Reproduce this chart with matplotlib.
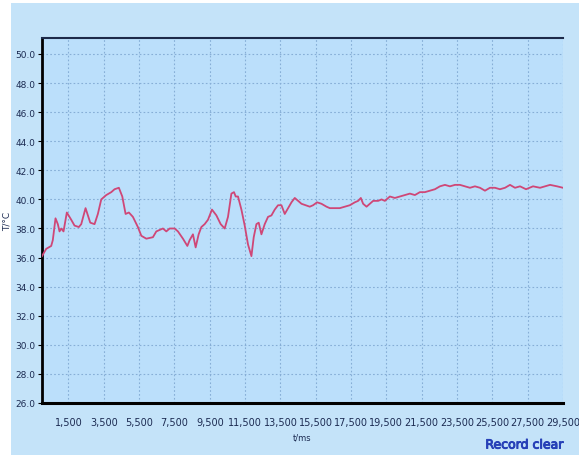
import numpy as np
import matplotlib.pyplot as plt
import matplotlib.patheffects as pe
from matplotlib.patches import Rectangle
from matplotlib.ticker import FuncFormatter

# temperature record, time in ms and temperature in deg C
t_ms = [0, 238, 521, 612, 765, 896, 992, 1088, 1219, 1406, 1655, 1842, 2086, 2222,
        2466, 2596, 2732, 2976, 3163, 3355, 3639, 3922, 4109, 4353, 4546, 4733, 4920,
        5147, 5430, 5623, 5906, 6280, 6473, 6660, 6847, 7040, 7227, 7510, 7697, 7981,
        8230, 8360, 8547, 8700, 8870, 9023, 9210, 9398, 9624, 9874, 10117, 10344,
        10531, 10724, 10871, 10968, 11098, 11291, 11478, 11665, 11858, 11988, 12141,
        12271, 12424, 12611, 12798, 12991, 13178, 13365, 13558, 13745, 13932, 14125,
        14312, 14499, 14692, 14935, 15162, 15349, 15576, 15825, 16108, 16296, 16579,
        16862, 17146, 17429, 17712, 17900, 18053, 18183, 18376, 18563, 18750, 19033,
        19226, 19413, 19697, 19980, 20264, 20547, 20831, 21114, 21397, 21681, 21964,
        22248, 22531, 22815, 23098, 23382, 23665, 23948, 24232, 24515, 24799, 25082,
        25365, 25649, 25932, 26216, 26499, 26783, 27066, 27406, 27803, 28200, 28767,
        29164, 29500]
temp_c = [36.1, 36.6, 36.8, 37.2, 38.7, 38.3, 37.8, 38.0, 37.8, 39.1, 38.6, 38.2, 38.1, 38.3,
          39.4, 38.9, 38.4, 38.3, 39.0, 40.0, 40.3, 40.5, 40.7, 40.8, 40.2, 39.0, 39.1,
          38.8, 38.1, 37.5, 37.3, 37.4, 37.8, 37.9, 38.0, 37.8, 38.0, 38.0, 37.8, 37.3,
          36.8, 37.2, 37.6, 36.7, 37.6, 38.1, 38.3, 38.6, 39.3, 38.9, 38.3, 38.0,
          38.8, 40.4, 40.5, 40.2, 40.2, 39.3, 38.2, 36.9, 36.1, 37.4, 38.3,
          38.4, 37.6, 38.3, 38.8, 38.9, 39.3, 39.6, 39.6, 39.0, 39.4, 39.8,
          40.1, 39.9, 39.7, 39.6, 39.5, 39.6, 39.8, 39.7, 39.5, 39.4, 39.4,
          39.4, 39.5, 39.6, 39.8, 39.9, 40.1, 39.7, 39.5, 39.7, 39.9, 39.9,
          40.0, 39.9, 40.2, 40.1, 40.2, 40.3, 40.4, 40.3, 40.5, 40.5, 40.6,
          40.7, 40.9, 41.0, 40.9, 41.0, 41.0, 40.9, 40.8, 40.9, 40.8, 40.6,
          40.8, 40.8, 40.7, 40.8, 41.0, 40.8, 40.9, 40.7, 40.9, 40.8, 41.0,
          40.9, 40.8]

x_ticks = [1500, 3500, 5500, 7500, 9500, 11500, 13500, 15500, 17500, 19500,
           21500, 23500, 25500, 27500, 29500]
y_ticks = [26, 28, 30, 32, 34, 36, 38, 40, 42, 44, 46, 48, 50]

narrow = ['Liberation Sans Narrow', 'DejaVu Sans']
txt_col = '#1c2b52'

fig = plt.figure(figsize=(5.79, 4.56), dpi=100)
fig.patch.set_facecolor('white')
# light blue panel behind the chart, white strip on the left and top
fig.patches.append(Rectangle((11 / 579, 0), 1, 1 - 4 / 456, transform=fig.transFigure,
                             facecolor='#c4e3f9', edgecolor='none', zorder=-10))

ax = fig.add_axes([42 / 579, 1 - 404 / 456, (563 - 42) / 579, (404 - 39) / 456])
ax.set_facecolor('#bbdffb')

ax.plot(t_ms, temp_c, color='#cf4777', lw=1.3, zorder=3)

ax.set_xlim(0, 29500)
ax.set_ylim(26, 51.1)
ax.set_xticks(x_ticks)
ax.set_yticks(y_ticks)
ax.xaxis.set_major_formatter(FuncFormatter(lambda v, p: f'{int(v):,}'))
ax.yaxis.set_major_formatter(FuncFormatter(lambda v, p: f'{v:.1f}'))

ax.grid(True, color='#86aed6', linestyle=(0, (1.5, 2)), linewidth=0.8, zorder=1)

ax.tick_params(axis='x', length=0, pad=10, labelsize=7, labelcolor=txt_col)
ax.tick_params(axis='y', length=3, width=0.8, pad=1.5, labelsize=6.5, labelcolor=txt_col)
for lab in ax.get_xticklabels() + ax.get_yticklabels():
    lab.set_family(narrow)

ax.spines['left'].set_linewidth(2)
ax.spines['left'].set_color('black')
ax.spines['bottom'].set_linewidth(2.2)
ax.spines['bottom'].set_color('black')
ax.spines['top'].set_linewidth(1.5)
ax.spines['top'].set_color('#1d2a4a')
ax.spines['right'].set_visible(False)

ax.set_xlabel('t/ms', fontsize=6, color=txt_col, family=narrow, labelpad=4)
ax.set_ylabel('T/°C', fontsize=6.5, color=txt_col, family=narrow)
ax.yaxis.set_label_coords(-0.058, 0.5)

# narrow face thickened with a stroke to look bold
fig.text(564 / 579, 1 - 446 / 456, 'Record clear', ha='right', va='center',
         fontsize=9, color='#2741b8', family=narrow,
         path_effects=[pe.withStroke(linewidth=0.7, foreground='#2741b8')])

fig.savefig('out.png', dpi=100, facecolor=fig.get_facecolor())
